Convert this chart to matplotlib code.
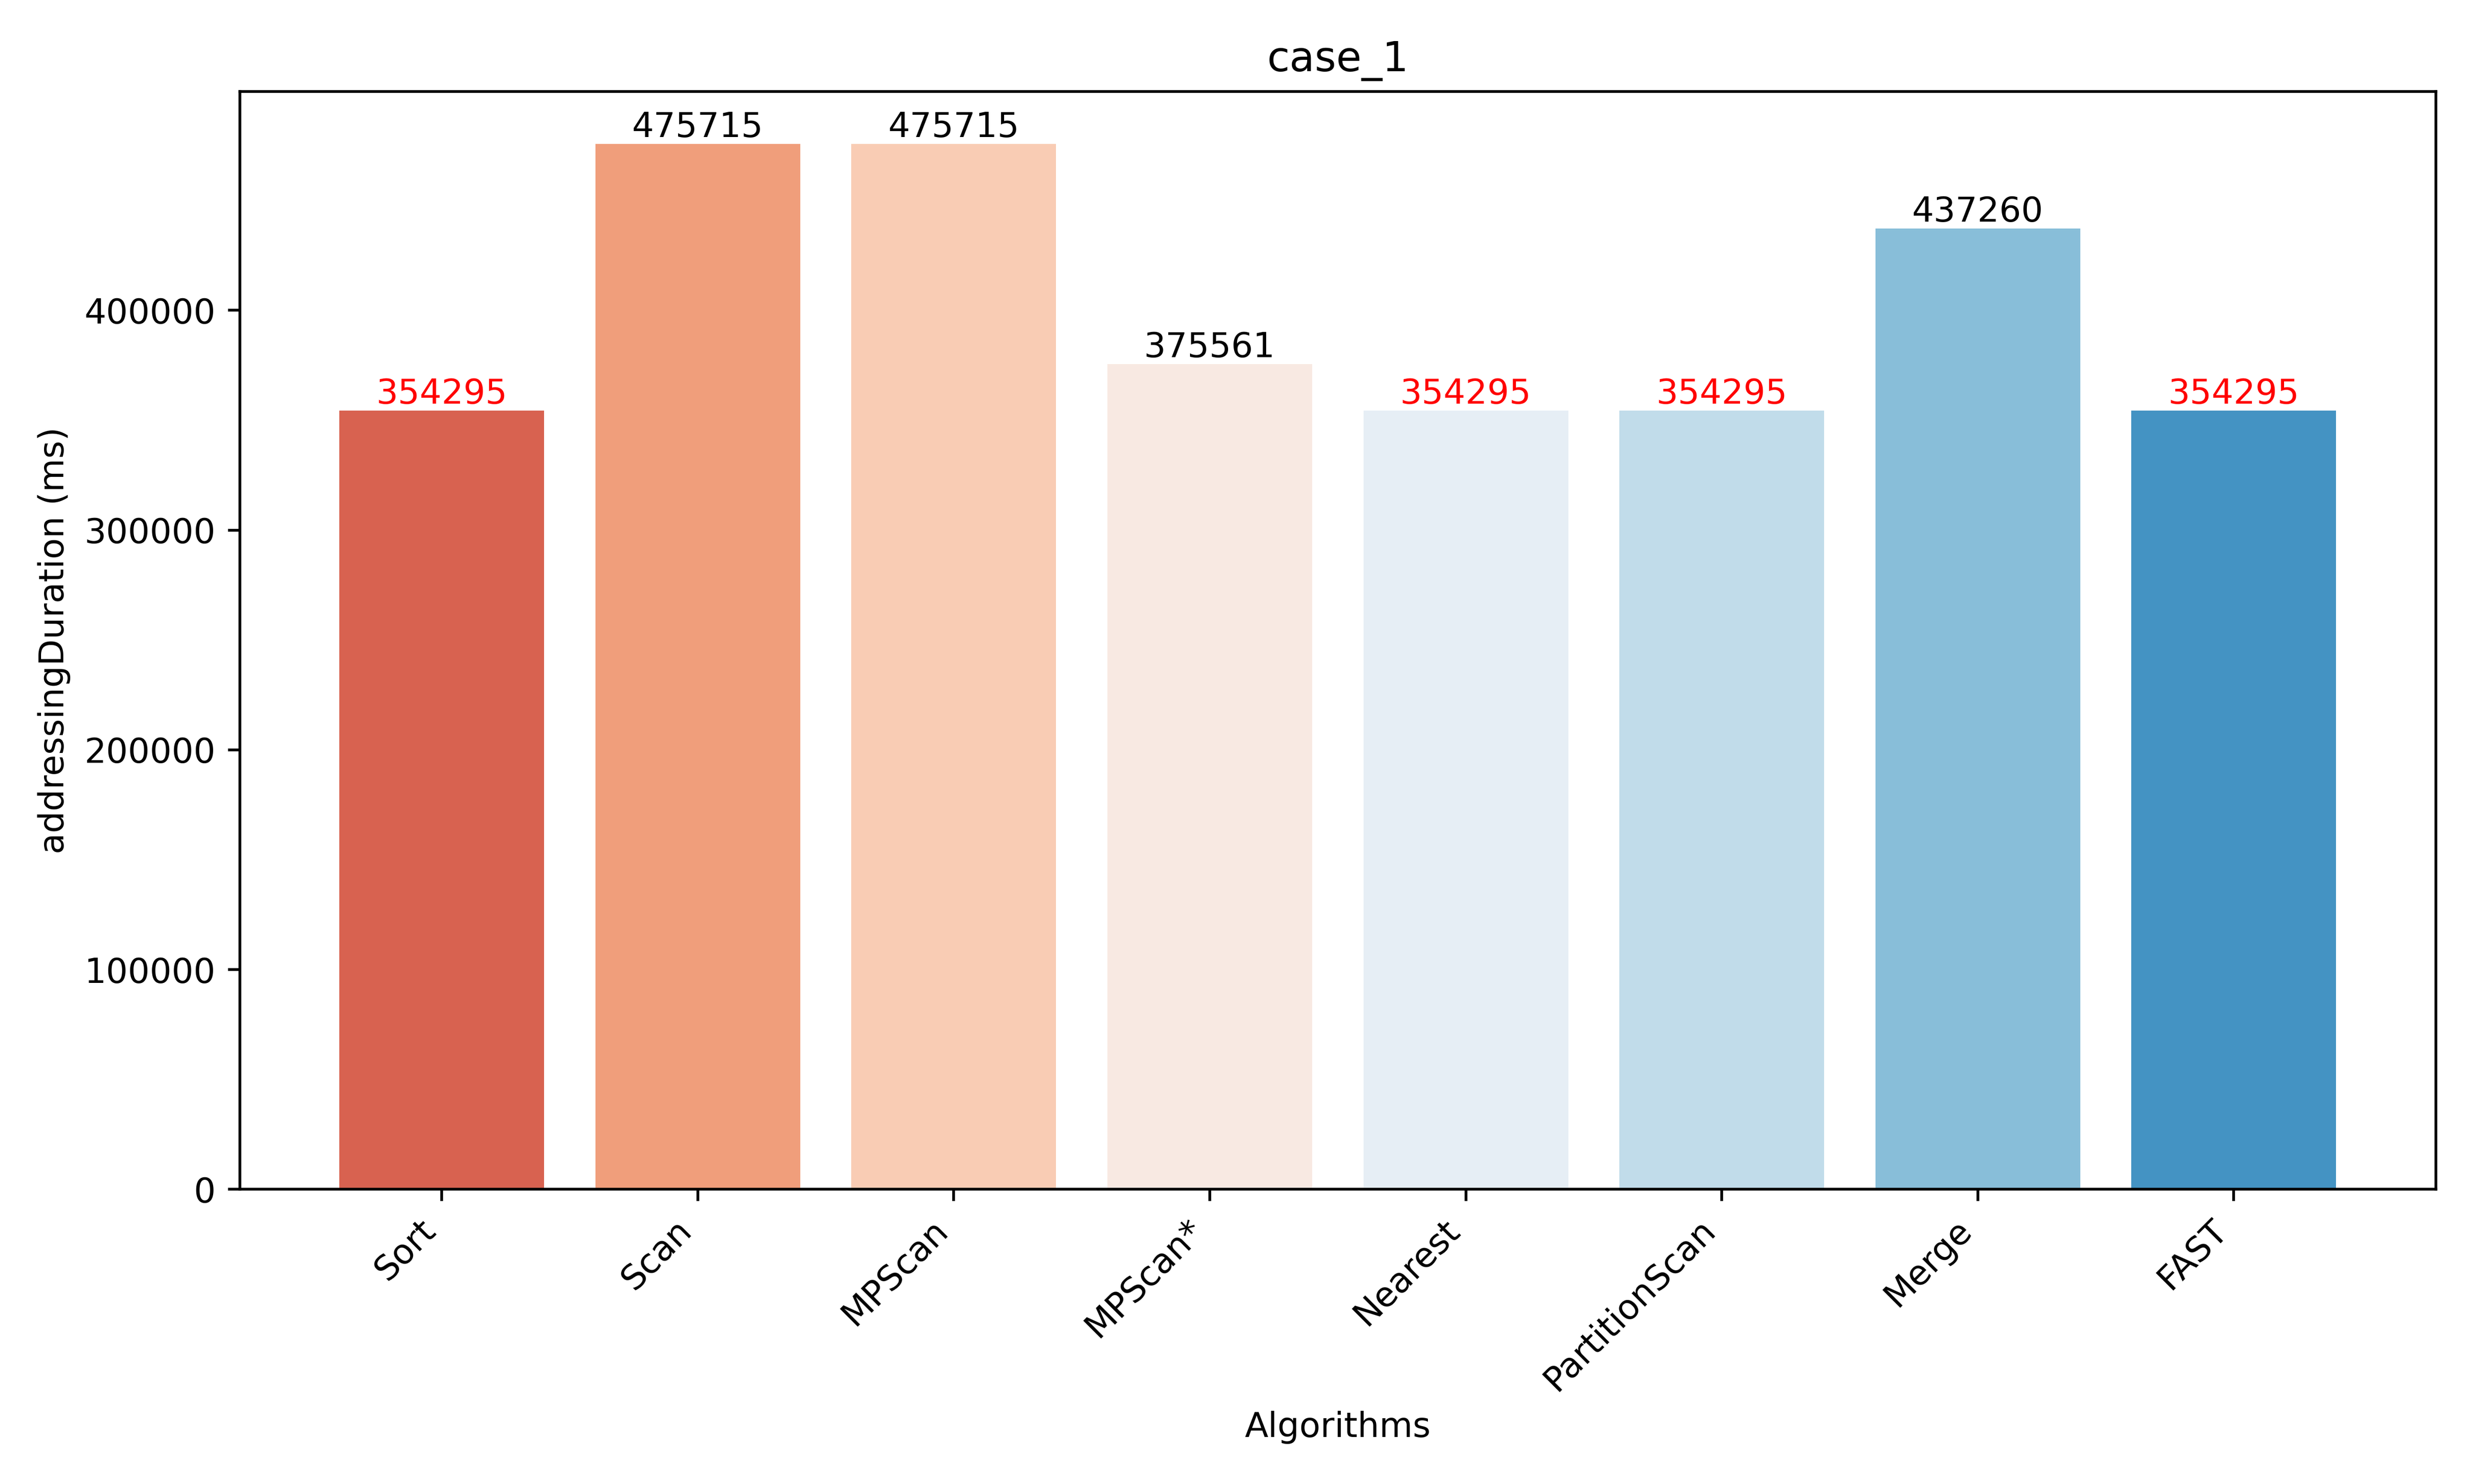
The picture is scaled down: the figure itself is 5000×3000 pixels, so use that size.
import matplotlib
matplotlib.use('Agg')
import matplotlib.pyplot as plt

algorithms = ['Sort', 'Scan', 'MPScan', 'MPScan*', 'Nearest', 'PartitionScan', 'Merge', 'FAST']
durations = [354295, 475715, 475715, 375561, 354295, 354295, 437260, 354295]
colors = ['#d86250', '#f09e7b', '#f9ccb4', '#f8e9e2', '#e6eef5', '#c1dcea', '#88bed9', '#4493c3']

fig, ax = plt.subplots(figsize=(10, 6))
bars = ax.bar(algorithms, durations, color=colors)
best = min(durations)
for b, v in zip(bars, durations):
    ax.text(b.get_x() + b.get_width() / 2, v, str(v), ha='center', va='bottom',
            color='red' if v == best else 'black')

ax.set_title('case_1')
ax.set_xlabel('Algorithms')
ax.set_ylabel('addressingDuration (ms)')
plt.xticks(rotation=45, ha='right')
plt.tight_layout()
plt.savefig('out.png', dpi=500)
